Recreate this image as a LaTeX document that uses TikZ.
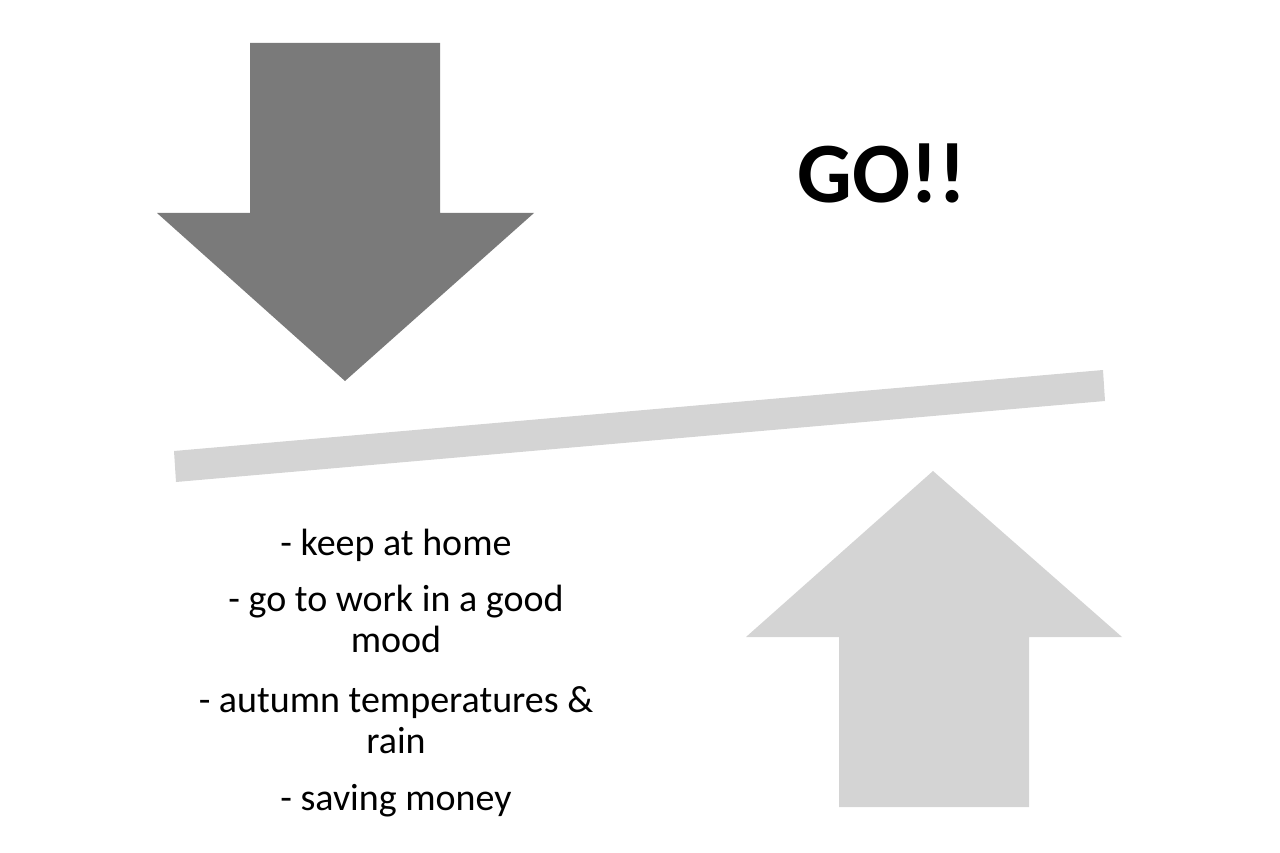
\documentclass[tikz,border=0pt]{standalone}
\usepackage{fontspec}
\setmainfont{Carlito}
\definecolor{pushgray}{RGB}{122,122,122}
\definecolor{liftgray}{RGB}{212,212,212}
\begin{document}
\begin{tikzpicture}[x=1pt, y=-1pt,
    push/.style={fill=pushgray, draw=none},
    lift/.style={fill=liftgray, draw=none},
    item/.style={anchor=base, align=center, inner sep=0pt,
      font=\fontsize{38}{41}\selectfont}]
  \useasboundingbox (0,0) rectangle (1280,853);
  % the heavy arrow pushing down on the left end of the lever
  \fill[push] (250,43) -- (440,43) -- (440,213) -- (534,213) -- (345,381)
    -- (157,213) -- (250,213) -- cycle;
  % the lever itself, slightly tilted
  \fill[lift] (174,451) -- (1103,370) -- (1105,401) -- (176,482) -- cycle;
  % the light arrow lifting the right end
  \fill[lift] (933,471) -- (1122,637) -- (1029,637) -- (1029,807) -- (839,807)
    -- (839,637) -- (746,637) -- cycle;

  \node[anchor=base, inner sep=0pt, font=\fontsize{86}{100}\selectfont\bfseries]
    (go) at (882,203) {GO!!};

  % reasons under the heavy side (base = baseline of the last line)
  \node[item] (home) at (396,555) {- keep at home};
  \node[item] (work) at (396,652) {- go to work in a good\\mood};
  \node[item] (rain) at (396,753) {- autumn temperatures \&\\rain};
  \node[item] (money) at (396,810) {- saving money};
\end{tikzpicture}
\end{document}
